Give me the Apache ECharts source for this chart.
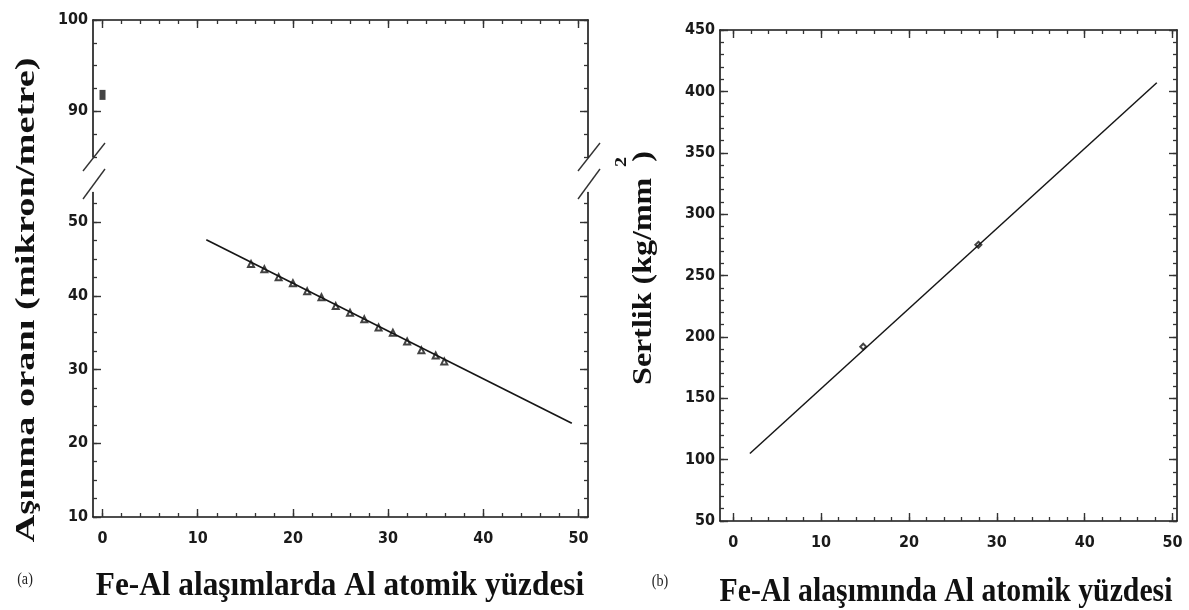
<!DOCTYPE html>
<html>
<head>
<meta charset="utf-8">
<script src="https://cdn.jsdelivr.net/npm/echarts@6/dist/echarts.min.js"></script>
<style>
html,body{margin:0;padding:0;background:#fff;}
#chart{width:1189px;height:610px;}
</style>
</head>
<body>
<div id="chart"></div>
<script>
// ---------------- data ----------------
// Panel (a): wear rate vs Al atomic %
const aDotX = [0];
const aDotY = [91.8];
const aFitX = [10.9, 49.3];
const aFitY = [47.6, 22.7];
const aPtsX = [15.6, 17.0, 18.5, 20.0, 21.5, 23.0, 24.5, 26.0, 27.5, 29.0, 30.5, 32.0, 33.5, 35.0, 35.9];
const aPtsY = [44.3, 43.6, 42.5, 41.7, 40.6, 39.8, 38.6, 37.7, 36.8, 35.7, 35.0, 33.8, 32.6, 31.9, 31.1];
// Panel (b): hardness vs Al atomic %
const bFitX = [1.9, 48.2];
const bFitY = [105, 407];
const bPtsX = [14.8, 27.9];
const bPtsY = [192, 275];

// tick labels
const xLabels = [0, 10, 20, 30, 40, 50];
const aUpperYLabels = [90, 100];
const aLowerYLabels = [10, 20, 30, 40, 50];
const bYLabels = [50, 100, 150, 200, 250, 300, 350, 400, 450];

// texts
const aXTitle = 'Fe-Al alaşımlarda Al atomik yüzdesi';
const bXTitle = 'Fe-Al alaşımında Al atomik yüzdesi';
const aYTitle = 'Aşınma oranı (mikron/metre)';
const bYTitle = 'Sertlik (kg/mm  )';

// ---------------- helpers ----------------
function range(a, b, step) { const r = []; for (let v = a; v <= b + 1e-9; v += step) r.push(+v.toFixed(3)); return r; }
const zip = (xs, ys) => xs.map((x, i) => [x, ys[i]]);

const INK = '#151515';
const labelFont = { fontFamily: "'DejaVu Sans Condensed','Liberation Sans Narrow',sans-serif", fontSize: 16, fontWeight: 'bold', color: '#1a1a1a' };

const layout = {
  aUp: { left: 93, right: 1189 - 588, top: 20, height: 137 },
  aLo: { left: 93, right: 1189 - 588, top: 192.5, height: 517 - 192.5 },
  b:   { left: 720, right: 1189 - 1177, top: 30, height: 521 - 30 }
};

const xAxes = [], yAxes = [];
function addAxes(list, dim, grid, position, min, max, minorVals, majorVals, labelVals, showLine) {
  const base = { type: 'value', gridIndex: grid, position, min, max, splitLine: { show: false }, silent: true };
  const minor = Object.assign({}, base, {
    axisLine: { show: showLine, onZero: false, lineStyle: { color: INK, width: 1.6 } },
    axisTick: { show: true, inside: true, customValues: minorVals, length: 4, lineStyle: { color: '#333', width: 1.3 } },
    axisLabel: { show: false }
  });
  const major = Object.assign({}, base, {
    axisLine: { show: false, onZero: false },
    axisTick: { show: true, inside: true, customValues: majorVals, length: 8, lineStyle: { color: '#333', width: 1.4 } },
    axisLabel: labelVals ? Object.assign({ show: true, customValues: labelVals, margin: dim === 'x' ? 14 : 5 }, labelFont) : { show: false }
  });
  list.push(minor); const idx = list.length - 1; list.push(major);
  return idx;
}

// grid 0 : (a) upper part
const xa0 = addAxes(xAxes, 'x', 0, 'bottom', -1, 51, [], [], null, false);
addAxes(xAxes, 'x', 0, 'top', -1, 51, range(0, 50, 2), range(0, 50, 10), null, true);
const ya0 = addAxes(yAxes, 'y', 0, 'left', 85, 100, range(85, 100, 2.5), [90, 100], aUpperYLabels, true);
addAxes(yAxes, 'y', 0, 'right', 85, 100, range(85, 100, 2.5), [90, 100], null, true);
// grid 1 : (a) lower part
const xa1 = addAxes(xAxes, 'x', 1, 'bottom', -1, 51, range(0, 50, 2), range(0, 50, 10), xLabels, true);
addAxes(xAxes, 'x', 1, 'top', -1, 51, [], [], null, false);
const ya1 = addAxes(yAxes, 'y', 1, 'left', 10, 54, range(10, 52.5, 2.5), range(10, 50, 10), aLowerYLabels, true);
addAxes(yAxes, 'y', 1, 'right', 10, 54, range(10, 52.5, 2.5), range(10, 50, 10), null, true);
// grid 2 : (b)
const xb = addAxes(xAxes, 'x', 2, 'bottom', -1.5, 50.5, range(0, 50, 2), range(0, 50, 10), xLabels, true);
addAxes(xAxes, 'x', 2, 'top', -1.5, 50.5, range(0, 50, 2), range(0, 50, 10), null, true);
const yb = addAxes(yAxes, 'y', 2, 'left', 50, 450, range(50, 450, 10), range(50, 450, 50), bYLabels, true);
addAxes(yAxes, 'y', 2, 'right', 50, 450, range(50, 450, 10), range(50, 450, 50), null, true);

const grids = [layout.aUp, layout.aLo, layout.b].map(g => Object.assign({ outerBoundsMode: 'none', containLabel: false }, g));

// break marks
function breakMarks(x) {
  return [
    { type: 'line', shape: { x1: x - 10, y1: 171, x2: x + 12, y2: 143 }, style: { stroke: '#333', lineWidth: 1.4 } },
    { type: 'line', shape: { x1: x - 10, y1: 199, x2: x + 12, y2: 169 }, style: { stroke: '#333', lineWidth: 1.4 } }
  ];
}
const serif = "'Liberation Serif','DejaVu Serif',serif";
function txt(text, x, y, size, opts, weight, color) {
  return Object.assign({
    type: 'text', x, y,
    style: { text, fontFamily: serif, fontWeight: weight || 'bold', fontSize: size, fill: color || '#111', align: 'center', verticalAlign: 'middle', textAlign: 'center', textVerticalAlign: 'middle' }
  }, opts || {});
}

const graphics = [].concat(
  breakMarks(93), breakMarks(588),
  [
    txt(aYTitle, 27, 300, 32, { rotation: Math.PI / 2, scaleX: 1.2, scaleY: 0.85 }),
    txt(bYTitle, 644, 268, 32, { rotation: Math.PI / 2, scaleX: 1.0, scaleY: 0.83 }),
    txt('2', 622, 162, 20, { rotation: Math.PI / 2, scaleY: 0.83 }),
    txt(aXTitle, 340, 586, 34, { scaleX: 0.92 }),
    txt(bXTitle, 946, 592, 34, { scaleX: 0.875 }),
    txt('(a)', 25, 580, 17, { scaleX: 0.83 }, 'normal', '#222'),
    txt('(b)', 660, 582, 17, { scaleX: 0.83 }, 'normal', '#222')
  ]
);

const option = {
  animation: false,
  backgroundColor: '#fff',
  grid: grids,
  xAxis: xAxes,
  yAxis: yAxes,
  graphic: { elements: graphics },
  series: [
    { type: 'scatter', xAxisIndex: xa0, yAxisIndex: ya0, data: zip(aDotX, aDotY), symbol: 'rect', symbolSize: [6, 10], itemStyle: { color: INK }, silent: true },
    { type: 'line', xAxisIndex: xa1, yAxisIndex: ya1, data: zip(aFitX, aFitY), symbol: 'none', lineStyle: { color: INK, width: 1.6 }, silent: true },
    { type: 'scatter', xAxisIndex: xa1, yAxisIndex: ya1, data: zip(aPtsX, aPtsY), symbol: 'emptyTriangle', symbolSize: 6, itemStyle: { color: INK, borderColor: INK, borderWidth: 1.6 }, silent: true },
    { type: 'line', xAxisIndex: xb, yAxisIndex: yb, data: zip(bFitX, bFitY), symbol: 'none', lineStyle: { color: INK, width: 1.5 }, silent: true },
    { type: 'scatter', xAxisIndex: xb, yAxisIndex: yb, data: zip(bPtsX, bPtsY), symbol: 'emptyDiamond', symbolSize: 6, itemStyle: { color: INK, borderColor: INK, borderWidth: 1.2 }, silent: true }
  ]
};

const chart = echarts.init(document.getElementById('chart'), null, { renderer: 'canvas' });
chart.setOption(option);
</script>
</body>
</html>
